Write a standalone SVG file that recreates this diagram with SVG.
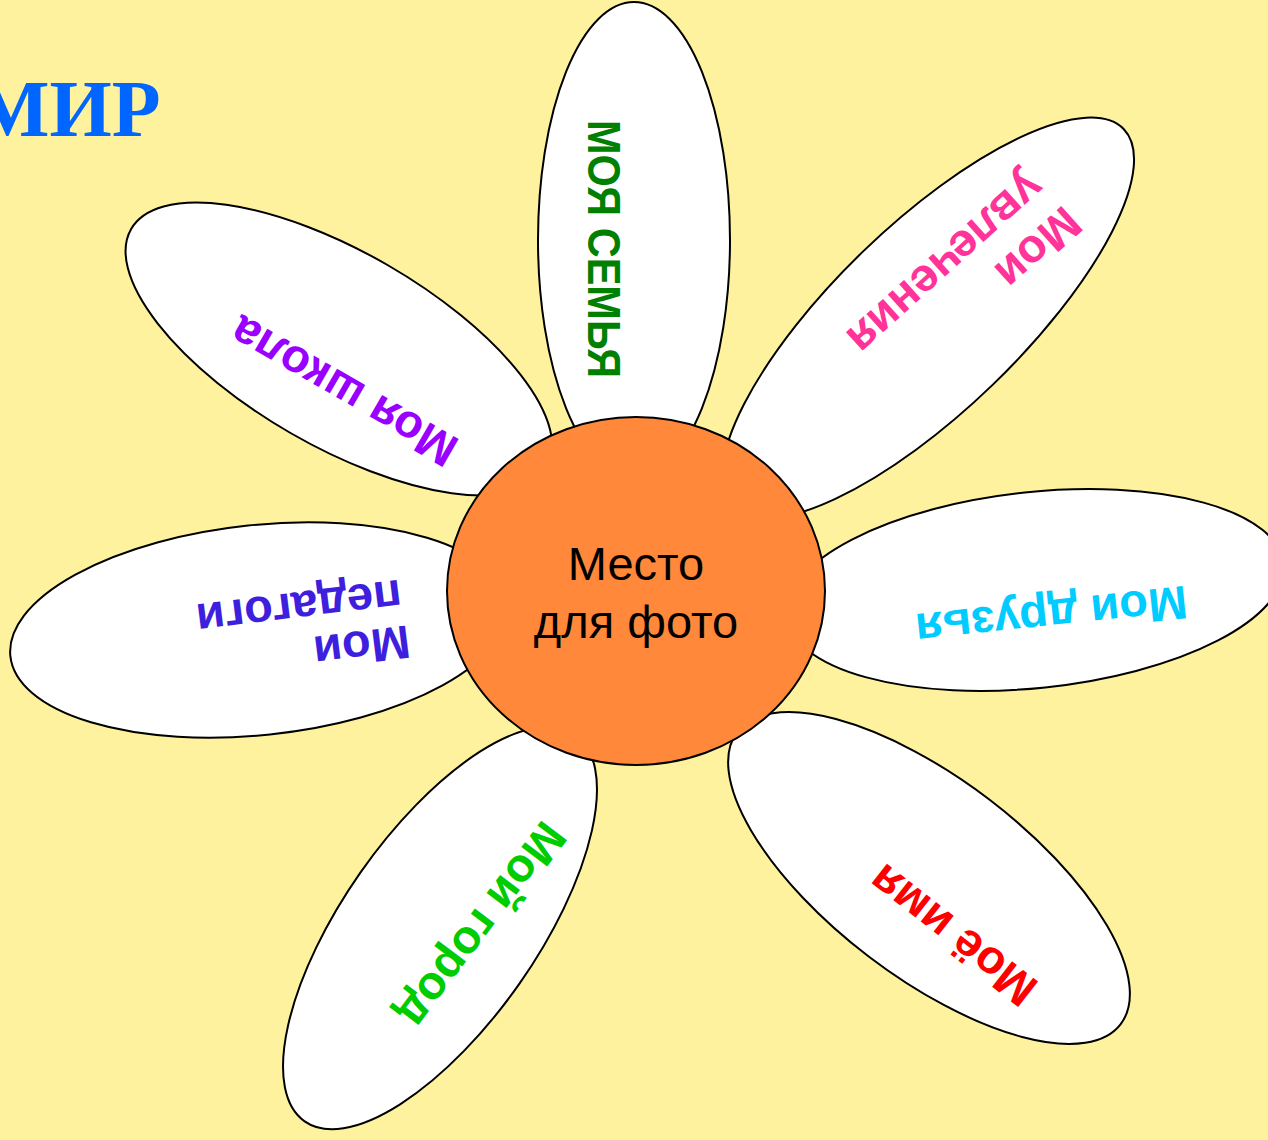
<svg xmlns="http://www.w3.org/2000/svg" width="1268" height="1140" viewBox="0 0 1268 1140">
<style>
.petal{fill:#FFFFFF;stroke:#000000;stroke-width:2}
.core{fill:#FF883A;stroke:#000000;stroke-width:2}
.pt{font-family:"Liberation Sans",Arial,sans-serif;font-weight:bold;font-size:47px;text-anchor:middle}
.ct{font-family:"Liberation Sans",Arial,sans-serif;font-size:47px;text-anchor:middle;fill:#000000}
.title{font-family:"Liberation Serif","Times New Roman",serif;font-weight:bold;font-size:80px;fill:#0066FF}
</style>
<rect x="0" y="0" width="1268" height="1140" fill="#FFF29E"/>
<text class="title" x="-26" y="136">МИР</text>
<g id="connectors"></g>
<g id="petal-family">
<ellipse class="petal" cx="634" cy="240" rx="96" ry="238"/>
<text class="pt" fill="#008000" font-size="54" textLength="258" lengthAdjust="spacingAndGlyphs" transform="translate(607,249) rotate(90)" x="0" y="19">МОЯ СЕМЬЯ</text>
</g>
<g id="petal-hobbies">
<ellipse class="petal" cx="0" cy="0" rx="272" ry="93" transform="translate(928,318) rotate(-44)"/>
<text class="pt" fill="#FF3399" transform="translate(1039,249) rotate(138)" x="0" y="17">Мои</text>
<text class="pt" fill="#FF3399" transform="translate(940,257) rotate(138)" x="0" y="7">увлечения</text>
</g>
<g id="petal-friends">
<ellipse class="petal" cx="0" cy="0" rx="250" ry="98" transform="translate(1035,590) rotate(-6)"/>
<text class="pt" fill="#00CCFF" transform="translate(1051,612) rotate(174)" x="0" y="12">Мои друзья</text>
</g>
<g id="petal-name">
<ellipse class="petal" cx="0" cy="0" rx="241" ry="99" transform="translate(929,878) rotate(37.3)"/>
<text class="pt" fill="#FF0000" transform="translate(952,936) rotate(218)" x="0" y="17">Моё имя</text>
</g>
<g id="petal-city">
<ellipse class="petal" cx="0" cy="0" rx="236" ry="97" transform="translate(440,928) rotate(-55)"/>
<text class="pt" fill="#00CC00" transform="translate(479,923) rotate(127)" x="0" y="12">Мой город</text>
</g>
<g id="petal-teachers">
<ellipse class="petal" cx="0" cy="0" rx="250" ry="105" transform="translate(259,630) rotate(-6)"/>
<text class="pt" fill="#3D1FDD" transform="translate(362,648) rotate(173)" x="0" y="17">Мои</text>
<text class="pt" fill="#3D1FDD" transform="translate(298,599) rotate(173)" x="0" y="7">педагоги</text>
</g>
<g id="petal-school">
<ellipse class="petal" cx="0" cy="0" rx="240" ry="97" transform="translate(339,349) rotate(30)"/>
<text class="pt" fill="#9900FF" transform="translate(343,392) rotate(210)" x="0" y="17">Моя школа</text>
</g>
<g id="center">
<ellipse class="core" cx="636" cy="591" rx="189" ry="174"/>
<text class="ct" x="636" y="580">Место</text>
<text class="ct" x="636" y="638">для фото</text>
</g>
</svg>
